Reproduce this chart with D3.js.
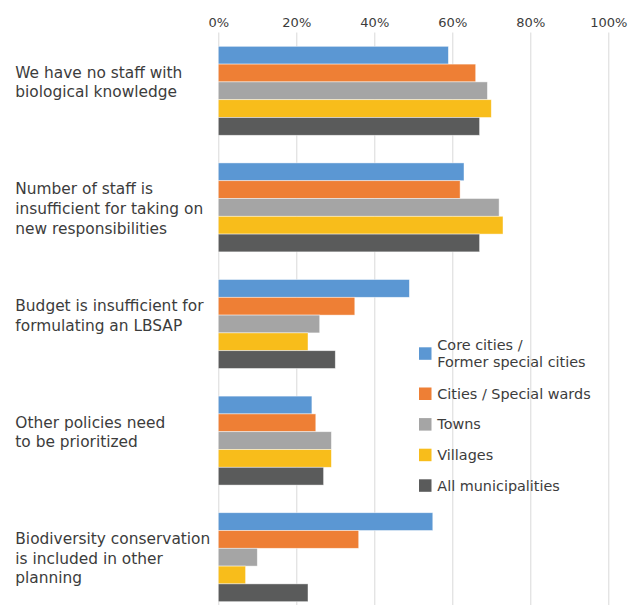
<!DOCTYPE html>
<html>
<head>
<meta charset="utf-8">
<script src="https://cdn.jsdelivr.net/npm/d3@7"></script>
<style>
  html, body { margin: 0; padding: 0; background: #fff; }
  svg { display: block; }
  text { font-family: "DejaVu Sans", Verdana, sans-serif; fill: #3C3C3C; }
</style>
</head>
<body>
<svg id="chart" width="634" height="605"></svg>
<script>
// Reasons for not formulating a local biodiversity strategy (share of respondents, %)
const categories = [
  ["We have no staff with", "biological knowledge"],
  ["Number of staff is", "insufficient for taking on", "new responsibilities"],
  ["Budget is insufficient for", "formulating an LBSAP"],
  ["Other policies need", "to be prioritized"],
  ["Biodiversity conservation", "is included in other", "planning"]
];
const seriesNames = [
  ["Core cities /", "Former special cities"],
  ["Cities / Special wards"],
  ["Towns"],
  ["Villages"],
  ["All municipalities"]
];
const coreCities   = [59, 63, 49, 24, 55];
const citiesWards  = [66, 62, 35, 25, 36];
const towns        = [69, 72, 26, 29, 10];
const villages     = [70, 73, 23, 29, 7];
const allMunicip   = [67, 67, 30, 27, 23];
const tickValues   = [0, 20, 40, 60, 80, 100];
const colors = ["#5B97D3", "#EE7F35", "#A5A5A5", "#F8BD1B", "#5A5B5B"];

const seriesValues = [coreCities, citiesWards, towns, villages, allMunicip];

const svg = d3.select("#chart");
const plot = { left: 218.3, right: 608.3, top: 32.5, bottom: 615.5 };

const x = d3.scaleLinear().domain([0, 100]).range([plot.left, plot.right]);
const y = d3.scaleBand()
  .domain(d3.range(categories.length))
  .range([plot.top, plot.bottom])
  .paddingInner(0.237)
  .paddingOuter(0.1185);
const ySub = d3.scaleBand()
  .domain(d3.range(seriesValues.length))
  .range([0, y.bandwidth()]);

// Vertical gridlines and percentage labels along the top
const xAxis = d3.axisTop(x)
  .tickValues(tickValues)
  .tickFormat(d => d + "%")
  .tickSize(-(plot.bottom - plot.top))
  .tickPadding(6);
const gx = svg.append("g")
  .attr("transform", `translate(0,${plot.top})`)
  .call(xAxis);
gx.select(".domain").remove();
gx.selectAll(".tick line").attr("stroke", "#D9D9D9").attr("stroke-width", 1);
gx.selectAll(".tick text")
  .attr("font-size", 13)
  .attr("fill", "#3C3C3C")
  .attr("y", -6);

// Bars
const groups = svg.append("g").selectAll("g")
  .data(categories)
  .join("g")
  .attr("transform", (d, i) => `translate(0,${y(i)})`);

groups.selectAll("rect")
  .data((d, i) => seriesValues.map((s, k) => ({ k, v: s[i] })))
  .join("rect")
  .attr("x", x(0))
  .attr("y", d => ySub(d.k))
  .attr("width", d => x(d.v) - x(0))
  .attr("height", ySub.bandwidth())
  .attr("fill", d => colors[d.k])
  .attr("stroke", "#ffffff")
  .attr("stroke-opacity", 0.6)
  .attr("stroke-width", 0.75);

// Category labels, laid out as three-line blocks starting from the top line
const lineH = 19.6;
svg.append("g").selectAll("text")
  .data(categories)
  .join("text")
  .attr("x", 15.3)
  .attr("y", (d, i) => y(i) + y.bandwidth() / 2 - 13)
  .attr("font-size", 15.4)
  .selectAll("tspan")
  .data(d => d)
  .join("tspan")
  .attr("x", 15.3)
  .attr("dy", (d, j) => j === 0 ? 0 : lineH)
  .text(d => d);

// Legend
const legend = svg.append("g");
const entryH = 30.6, extraLine = 19.2, legLineH = 16.6;
let cy = 353.5;
seriesNames.forEach((lines, k) => {
  if (k > 0) {
    const prev = seriesNames[k - 1].length;
    cy += (entryH + (prev - 1) * extraLine) / 2 + (entryH + (lines.length - 1) * extraLine) / 2;
  }
  legend.append("rect")
    .attr("x", 419)
    .attr("y", cy - 6.2)
    .attr("width", 12.5)
    .attr("height", 12.5)
    .attr("fill", colors[k]);
  const t = legend.append("text")
    .attr("x", 437.3)
    .attr("y", cy + 5 - (lines.length - 1) * legLineH / 2)
    .attr("font-size", 14.4);
  t.selectAll("tspan")
    .data(lines)
    .join("tspan")
    .attr("x", 437.3)
    .attr("dy", (d, j) => j === 0 ? 0 : legLineH)
    .text(d => d);
});
</script>
</body>
</html>
